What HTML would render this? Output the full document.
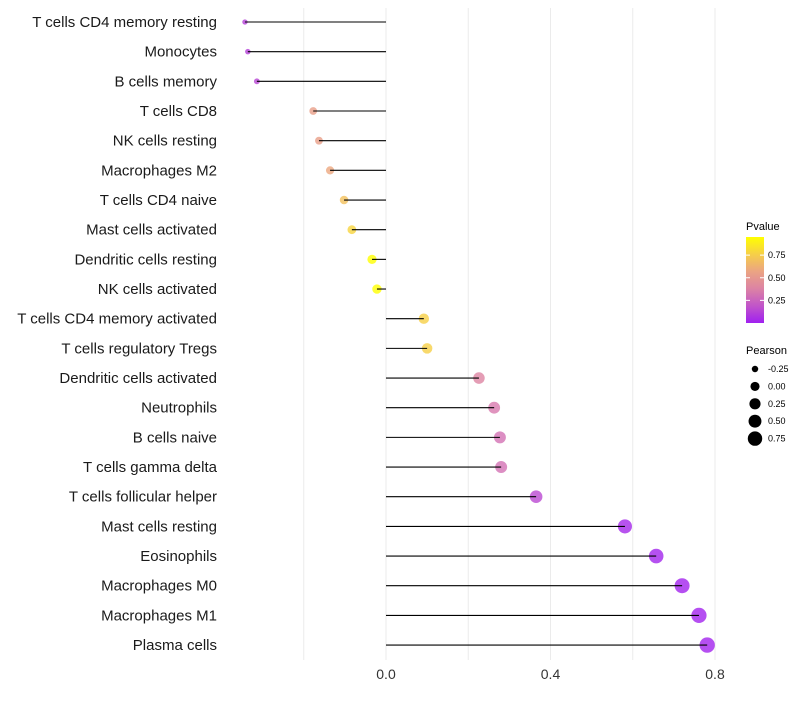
<!DOCTYPE html>
<html><head><meta charset="utf-8"><style>
body{margin:0;background:#fff;font-family:"Liberation Sans",sans-serif;}
svg text{font-family:"Liberation Sans",sans-serif;}
</style></head><body>
<svg id="c" width="800" height="700"></svg>
<script>
const categories=["T cells CD4 memory resting","Monocytes","B cells memory","T cells CD8","NK cells resting","Macrophages M2","T cells CD4 naive","Mast cells activated","Dendritic cells resting","NK cells activated","T cells CD4 memory activated","T cells regulatory  Tregs ","Dendritic cells activated","Neutrophils","B cells naive","T cells gamma delta","T cells follicular helper","Mast cells resting","Eosinophils","Macrophages M0","Macrophages M1","Plasma cells"];
const pearson=[-0.343,-0.336,-0.314,-0.177,-0.163,-0.136,-0.102,-0.083,-0.034,-0.022,0.092,0.100,0.226,0.263,0.277,0.280,0.365,0.581,0.657,0.720,0.761,0.781];
const pvalue=[0.12,0.12,0.14,0.55,0.55,0.6,0.72,0.8,0.97,0.97,0.78,0.78,0.4,0.33,0.3,0.3,0.15,0.03,0.02,0.01,0.01,0.01];
const xTicks=[0.0,0.4,0.8];
const xGrid=[-0.2,0,0.2,0.4,0.6,0.8];
const pTicks=[0.25,0.5,0.75];
const sizeTicks=[-0.25,0,0.25,0.5,0.75];
const NS="http://www.w3.org/2000/svg";
const svg=document.getElementById('c');
function X(v){return 386+v*411.25;}
function Y(i){return 22+i*29.67;}
function R(v){return Math.sqrt(Math.max(23+46*v,1));}
function lerp(a,b,t){return a.map((x,i)=>Math.round(x+(b[i]-x)*t));}
function col(p){const s=[[160,32,240],[215,120,175],[240,175,120],[255,255,0]];const t=Math.min(Math.max(p/0.97,0),1)*3;const k=Math.min(Math.floor(t),2);return `rgb(${lerp(s[k],s[k+1],t-k)})`;}
function el(t,a,p){const e=document.createElementNS(NS,t);for(const k in a)e.setAttribute(k,a[k]);(p||svg).appendChild(e);return e;}
xGrid.forEach(v=>{const g=el('line',{x1:X(v),x2:X(v),y1:8,y2:660,stroke:'#ebebeb','stroke-width':1});

});
categories.forEach((c,i)=>{
const t=el('text',{x:217,y:Y(i)+5,'text-anchor':'end','font-size':15,fill:'#1a1a1a'});t.textContent=c;


const d=el('circle',{cx:X(pearson[i]),cy:Y(i),r:R(pearson[i]),fill:col(pvalue[i]),'fill-opacity':0.8});


const l=el('line',{x1:X(0),x2:X(pearson[i]),y1:Y(i),y2:Y(i),stroke:'#000','stroke-width':1.1});


});
xTicks.forEach(v=>{const t=el('text',{x:X(v),y:679,'text-anchor':'middle','font-size':14,fill:'#333'});t.textContent=v.toFixed(1);

});
const lt=el('text',{x:746,y:230,'font-size':11});lt.textContent='Pvalue';


const defs=el('defs',{});const lg=el('linearGradient',{id:'g',x1:0,y1:1,x2:0,y2:0},defs);
[0,0.2,0.4,0.6,0.8,1].forEach(o=>el('stop',{offset:o,'stop-color':col(o*0.97)},lg));
const bar=el('rect',{x:746,y:237,width:18,height:86,fill:'url(#g)'});


pTicks.forEach(p=>{const y=323-p*90.5;el('line',{x1:746,x2:750,y1:y,y2:y,stroke:'#fff'});el('line',{x1:760,x2:764,y1:y,y2:y,stroke:'#fff'});
const t=el('text',{x:768,y:y+3,'font-size':9});t.textContent=p.toFixed(2);

});
const st=el('text',{x:746,y:354,'font-size':11});st.textContent='Pearson';


sizeTicks.forEach((v,i)=>{const y=369+i*17.4;const c=el('circle',{cx:755,cy:y,r:R(v)*0.95,fill:'#000'});


const t=el('text',{x:768,y:y+3,'font-size':9});t.textContent=v.toFixed(2);

});
</script>
</body></html>
